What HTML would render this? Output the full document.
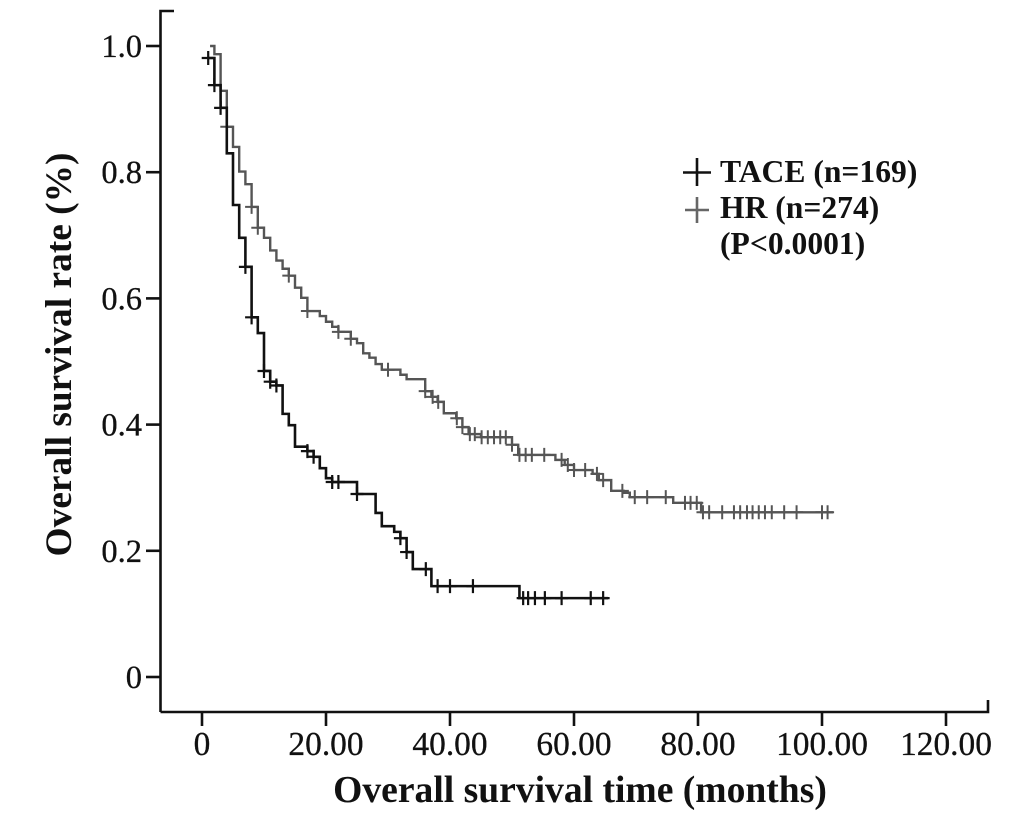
<!DOCTYPE html>
<html lang="en">
<head>
<meta charset="utf-8">
<title>Overall survival chart</title>
<style>
html,body{margin:0;padding:0;background:#fff;}
body{width:1033px;height:820px;overflow:hidden;}
svg{display:block;font-family:"Liberation Serif",serif;}
.soft{filter:blur(0.35px);}
</style>
</head>
<body>
<svg id="chart" width="1033" height="820" viewBox="0 0 1033 820">
  <g id="axes" class="soft"></g>
  <g id="series" class="soft"></g>
  <text x="580" y="802" text-anchor="middle" font-size="37.6" font-weight="bold" fill="#111">Overall survival time (months)</text>
  <text transform="translate(71,354.5) rotate(-90)" text-anchor="middle" font-size="37.4" font-weight="bold" fill="#111">Overall survival rate (%)</text>
  <g class="soft">
    <g>
      <path d="M683 172.5H711M697 158V186" stroke="#111" stroke-width="2.6" fill="none"/>
      <text x="720" y="182" font-size="31.6" font-weight="bold" fill="#111">TACE (n=169)</text>
    </g>
    <g>
      <path d="M685 210H709M697 197V223" stroke="#666" stroke-width="2.6" fill="none"/>
      <text x="720" y="218" font-size="31.6" font-weight="bold" fill="#111">HR (n=274)</text>
    </g>
    <text x="720" y="254" font-size="31.6" font-weight="bold" fill="#111">(P&lt;0.0001)</text>
  </g>
</svg>
<script>
const xTicks = [0, 20, 40, 60, 80, 100, 120];
const xTickLabels = ["0", "20.00", "40.00", "60.00", "80.00", "100.00", "120.00"];
const yTicks = [0, 0.2, 0.4, 0.6, 0.8, 1.0];
const yTickLabels = ["0", "0.2", "0.4", "0.6", "0.8", "1.0"];

const taceTimes = [1, 2, 3, 4, 5, 6, 7, 8, 9, 10, 11, 12, 13, 14, 15, 17, 18, 19, 20, 21, 25, 28, 29, 31, 32, 33, 34, 37, 51.2];
const taceSurvival = [0.981, 0.938, 0.902, 0.830, 0.748, 0.696, 0.650, 0.570, 0.545, 0.485, 0.468, 0.462, 0.417, 0.399, 0.365, 0.358, 0.349, 0.331, 0.315, 0.309, 0.290, 0.260, 0.239, 0.230, 0.220, 0.198, 0.171, 0.144, 0.125];
const taceEnd = 65.5;
const taceCensored = [1, 2, 3, 7, 8, 10, 11, 12, 17, 18, 21, 22, 25, 32, 33, 36.1, 38, 40, 43.7, 51.8, 52.6, 53.7, 55.3, 58, 62.7, 64.7];

const hrTimes = [1.3, 2, 3, 4, 5, 6, 7, 8, 9, 10, 11, 12, 13, 14, 15, 16, 17, 19, 20, 21, 22, 24, 25, 26, 27, 28, 29, 32, 33, 36, 37, 38, 39, 41, 42, 43, 45, 50, 51, 57, 58.5, 60, 63, 64, 66, 68, 69, 76, 80.5];
const hrSurvival = [1.0, 0.987, 0.929, 0.872, 0.840, 0.801, 0.781, 0.745, 0.712, 0.696, 0.676, 0.660, 0.647, 0.636, 0.617, 0.601, 0.580, 0.572, 0.563, 0.555, 0.547, 0.536, 0.529, 0.513, 0.506, 0.496, 0.487, 0.479, 0.472, 0.453, 0.444, 0.436, 0.418, 0.410, 0.396, 0.385, 0.380, 0.368, 0.352, 0.344, 0.336, 0.328, 0.322, 0.312, 0.295, 0.292, 0.285, 0.276, 0.261];
const hrEnd = 101.8;
const hrCensored = [4, 8, 9, 14, 17, 22, 24, 30, 36, 37.2, 38.1, 41.1, 42, 43.2, 44, 45.1, 46.1, 47.1, 48.1, 49, 50, 51.2, 52.2, 53.2, 55.2, 58, 59, 60, 61.8, 63.7, 64.7, 67.8, 69.8, 71.8, 74.8, 77.9, 78.8, 79.8, 80.8, 81.8, 83.9, 85.8, 86.8, 87.9, 88.8, 89.8, 90.8, 91.9, 93.9, 95.9, 100, 100.9];

const NS = "http://www.w3.org/2000/svg";
function xScale(t) { return 202 + t * 6.2; }
function yScale(s) { return 677 - s * 631; }

function make(tag, attrs, parent) {
  const el = document.createElementNS(NS, tag);
  for (const k in attrs) el.setAttribute(k, attrs[k]);
  parent.appendChild(el);
  return el;
}

const axes = document.getElementById("axes");
const axisAttrs = { stroke: "#111", "stroke-width": 2.6, fill: "none" };

const yAxisLine = make("path", Object.assign({ d: "M174 11H160.5V712" }, axisAttrs), axes);



const xAxisLine = make("path", Object.assign({ d: "M160.5 712H988V700" }, axisAttrs), axes);



xTicks.forEach(function (v, i) {
  const x = xScale(v);
  const tick = make("path", Object.assign({ d: "M" + x + " 712V726" }, axisAttrs), axes);
  
  
  const label = make("text", { x: x, y: 755, "text-anchor": "middle", "font-size": 33.4, fill: "#111", stroke: "#111", "stroke-width": 0.3 }, axes);
  
  
  label.textContent = xTickLabels[i];
});

yTicks.forEach(function (v, i) {
  const y = yScale(v);
  const tick = make("path", Object.assign({ d: "M146 " + y + "H160.5" }, axisAttrs), axes);
  
  
  const label = make("text", { x: 142, y: y + 11, "text-anchor": "end", "font-size": 32.5, fill: "#111", stroke: "#111", "stroke-width": 0.3 }, axes);
  
  
  label.textContent = yTickLabels[i];
});

function levelAt(times, values, t) {
  let s = values[0];
  for (let i = 0; i < times.length; i++) {
    if (times[i] <= t) s = values[i];
  }
  return s;
}

function stepPath(times, values, end) {
  let d = "M" + xScale(times[0]) + " " + yScale(values[0]);
  for (let i = 1; i < times.length; i++) {
    d += "H" + xScale(times[i]) + "V" + yScale(values[i]);
  }
  return d + "H" + xScale(end);
}

const seriesLayer = document.getElementById("series");

function censorPath(times, values, censored, hw, hh) {
  let d = "";
  censored.forEach(function (t) {
    const x = xScale(t);
    const y = yScale(levelAt(times, values, t));
    d += "M" + (x - hw) + " " + y + "H" + (x + hw) + "M" + x + " " + (y - hh) + "V" + (y + hh);
  });
  return d;
}

const hrLine = make("path", { d: stepPath(hrTimes, hrSurvival, hrEnd), stroke: "#555", "stroke-width": 2.4, fill: "none" }, seriesLayer);



const hrMarks = make("path", { d: censorPath(hrTimes, hrSurvival, hrCensored, 6.5, 7), stroke: "#555", "stroke-width": 2, fill: "none" }, seriesLayer);



const taceLine = make("path", { d: stepPath(taceTimes, taceSurvival, taceEnd), stroke: "#111", "stroke-width": 2.6, fill: "none" }, seriesLayer);



const taceMarks = make("path", { d: censorPath(taceTimes, taceSurvival, taceCensored, 6.5, 7), stroke: "#111", "stroke-width": 2.2, fill: "none" }, seriesLayer);


</script>
</body>
</html>
